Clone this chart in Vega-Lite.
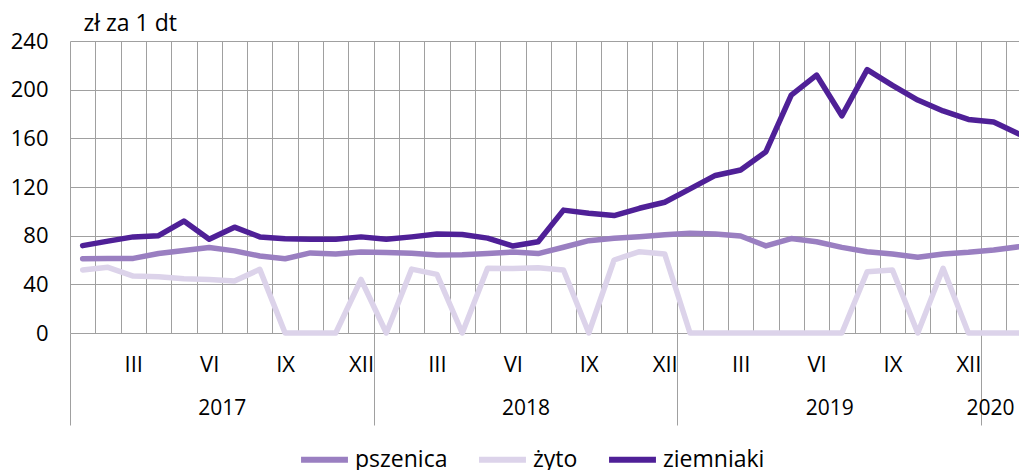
{
  "$schema": "https://vega.github.io/schema/vega-lite/v6.json",
  "width": 949,
  "height": 292,
  "autosize": "none",
  "padding": {"left": 70, "top": 41, "right": 0, "bottom": 137},
  "background": "white",
  "config": {
    "font": "Open Sans",
    "view": {"stroke": null},
    "axis": {"gridColor": "#a0a0a0", "gridOpacity": 1, "gridWidth": 1, "labelColor": "#000000", "labelFont": "Open Sans"}
  },
  "data": {"values": [
    {"m":1,"s":"pszenica","v":61},{"m":2,"s":"pszenica","v":61.3},{"m":3,"s":"pszenica","v":61.3},{"m":4,"s":"pszenica","v":65.3},{"m":5,"s":"pszenica","v":67.8},{"m":6,"s":"pszenica","v":70.2},{"m":7,"s":"pszenica","v":67.5},{"m":8,"s":"pszenica","v":63.3},{"m":9,"s":"pszenica","v":61},{"m":10,"s":"pszenica","v":65.8},{"m":11,"s":"pszenica","v":65},{"m":12,"s":"pszenica","v":66.5},{"m":13,"s":"pszenica","v":66.2},{"m":14,"s":"pszenica","v":65.5},{"m":15,"s":"pszenica","v":64.2},{"m":16,"s":"pszenica","v":64.4},{"m":17,"s":"pszenica","v":65.4},{"m":18,"s":"pszenica","v":66.5},{"m":19,"s":"pszenica","v":65.3},{"m":20,"s":"pszenica","v":70.5},{"m":21,"s":"pszenica","v":75.9},{"m":22,"s":"pszenica","v":77.8},{"m":23,"s":"pszenica","v":79.2},{"m":24,"s":"pszenica","v":80.8},{"m":25,"s":"pszenica","v":81.9},{"m":26,"s":"pszenica","v":81.3},{"m":27,"s":"pszenica","v":79.7},{"m":28,"s":"pszenica","v":71.6},{"m":29,"s":"pszenica","v":77.6},{"m":30,"s":"pszenica","v":75},{"m":31,"s":"pszenica","v":70.4},{"m":32,"s":"pszenica","v":66.8},{"m":33,"s":"pszenica","v":64.9},{"m":34,"s":"pszenica","v":62.3},{"m":35,"s":"pszenica","v":64.9},{"m":36,"s":"pszenica","v":66.3},{"m":37,"s":"pszenica","v":68.2},{"m":38,"s":"pszenica","v":70.9},
    {"m":1,"s":"żyto","v":51.8},{"m":2,"s":"żyto","v":54},{"m":3,"s":"żyto","v":46.8},{"m":4,"s":"żyto","v":46.3},{"m":5,"s":"żyto","v":44.5},{"m":6,"s":"żyto","v":44},{"m":7,"s":"żyto","v":42.7},{"m":8,"s":"żyto","v":52.3},{"m":9,"s":"żyto","v":0},{"m":10,"s":"żyto","v":0},{"m":11,"s":"żyto","v":0},{"m":12,"s":"żyto","v":44},{"m":13,"s":"żyto","v":0},{"m":14,"s":"żyto","v":52.5},{"m":15,"s":"żyto","v":48.2},{"m":16,"s":"żyto","v":0},{"m":17,"s":"żyto","v":53.2},{"m":18,"s":"żyto","v":53},{"m":19,"s":"żyto","v":53.7},{"m":20,"s":"żyto","v":51.8},{"m":21,"s":"żyto","v":0},{"m":22,"s":"żyto","v":60},{"m":23,"s":"żyto","v":66.8},{"m":24,"s":"żyto","v":65},{"m":25,"s":"żyto","v":0},{"m":26,"s":"żyto","v":0},{"m":27,"s":"żyto","v":0},{"m":28,"s":"żyto","v":0},{"m":29,"s":"żyto","v":0},{"m":30,"s":"żyto","v":0},{"m":31,"s":"żyto","v":0},{"m":32,"s":"żyto","v":50.4},{"m":33,"s":"żyto","v":51.8},{"m":34,"s":"żyto","v":0},{"m":35,"s":"żyto","v":53.2},{"m":36,"s":"żyto","v":0},{"m":37,"s":"żyto","v":0},{"m":38,"s":"żyto","v":0},
    {"m":1,"s":"ziemniaki","v":71.8},{"m":2,"s":"ziemniaki","v":75.5},{"m":3,"s":"ziemniaki","v":79},{"m":4,"s":"ziemniaki","v":80},{"m":5,"s":"ziemniaki","v":92},{"m":6,"s":"ziemniaki","v":77},{"m":7,"s":"ziemniaki","v":87},{"m":8,"s":"ziemniaki","v":79},{"m":9,"s":"ziemniaki","v":77.5},{"m":10,"s":"ziemniaki","v":77},{"m":11,"s":"ziemniaki","v":77},{"m":12,"s":"ziemniaki","v":79},{"m":13,"s":"ziemniaki","v":77},{"m":14,"s":"ziemniaki","v":79},{"m":15,"s":"ziemniaki","v":81.4},{"m":16,"s":"ziemniaki","v":81},{"m":17,"s":"ziemniaki","v":78},{"m":18,"s":"ziemniaki","v":71.5},{"m":19,"s":"ziemniaki","v":75},{"m":20,"s":"ziemniaki","v":101},{"m":21,"s":"ziemniaki","v":98.5},{"m":22,"s":"ziemniaki","v":96.5},{"m":23,"s":"ziemniaki","v":102.5},{"m":24,"s":"ziemniaki","v":107.5},{"m":25,"s":"ziemniaki","v":118.5},{"m":26,"s":"ziemniaki","v":129.5},{"m":27,"s":"ziemniaki","v":134},{"m":28,"s":"ziemniaki","v":149},{"m":29,"s":"ziemniaki","v":195.5},{"m":30,"s":"ziemniaki","v":212},{"m":31,"s":"ziemniaki","v":178.5},{"m":32,"s":"ziemniaki","v":216.5},{"m":33,"s":"ziemniaki","v":203.5},{"m":34,"s":"ziemniaki","v":191.5},{"m":35,"s":"ziemniaki","v":182.5},{"m":36,"s":"ziemniaki","v":175.5},{"m":37,"s":"ziemniaki","v":173.5},{"m":38,"s":"ziemniaki","v":163.5}
  ]},
  "layer": [
    {
      "mark": {"type": "line", "strokeWidth": 5.5, "strokeCap": "round", "strokeJoin": "round"},
      "encoding": {
        "x": {"field": "m", "type": "quantitative",
          "scale": {"domain": [0.5, 38], "nice": false, "zero": false},
          "axis": {"orient": "bottom", "title": null, "grid": true, "labels": false, "ticks": false, "domain": false,
            "values": [0.5,1.5,2.5,3.5,4.5,5.5,6.5,7.5,8.5,9.5,10.5,11.5,12.5,13.5,14.5,15.5,16.5,17.5,18.5,19.5,20.5,21.5,22.5,23.5,24.5,25.5,26.5,27.5,28.5,29.5,30.5,31.5,32.5,33.5,34.5,35.5,36.5,37.5]}},
        "y": {"field": "v", "type": "quantitative",
          "scale": {"domain": [0, 240], "nice": false},
          "axis": {"values": [0,40,80,120,160,200,240], "grid": true, "ticks": false, "domain": false,
            "labelFontSize": 22, "labelPadding": 22,
            "title": "zł za 1 dt", "titleAngle": 0, "titleAlign": "left", "titleBaseline": "alphabetic",
            "titleX": 13, "titleY": -11, "titleFontSize": 23, "titleFontWeight": "normal", "titleColor": "#000000", "titleFont": "Open Sans"}},
        "color": {"field": "s", "type": "nominal",
          "scale": {"domain": ["pszenica", "żyto", "ziemniaki"], "range": ["#9a7fc1", "#dcd3ea", "#4f2097"]},
          "legend": {"title": null, "orient": "none", "legendX": 228, "legendY": 392, "direction": "horizontal",
            "symbolType": "stroke", "symbolSize": 2200, "symbolStrokeWidth": 6, "labelFontSize": 23,
            "labelOffset": 4, "columnPadding": 19, "padding": 0, "labelColor": "#000000", "labelFont": "Open Sans"}}
      }
    },
    {
      "mark": {"type": "point", "opacity": 0},
      "encoding": {
        "x": {"field": "m", "type": "quantitative",
          "scale": {"domain": [0.5, 38], "nice": false, "zero": false},
          "axis": {"orient": "bottom", "title": null, "grid": false, "ticks": false, "domain": false,
            "values": [3,6,9,12,15,18,21,24,27,30,33,36],
            "labelExpr": "datum.value % 12 == 3 ? 'III' : datum.value % 12 == 6 ? 'VI' : datum.value % 12 == 9 ? 'IX' : 'XII'",
            "labelFontSize": 22, "labelPadding": 21, "labelBaseline": "top"}}
      }
    },
    {
      "mark": {"type": "point", "opacity": 0},
      "encoding": {
        "x": {"field": "m", "type": "quantitative",
          "scale": {"domain": [0.5, 38], "nice": false, "zero": false},
          "axis": {"orient": "bottom", "title": null, "grid": false, "labels": false, "domain": false,
            "ticks": true, "tickSize": 92, "tickColor": "#a0a0a0", "tickWidth": 1,
            "values": [0.5, 12.5, 24.5, 36.5, 38]}}
      }
    },
    {
      "mark": {"type": "point", "opacity": 0},
      "encoding": {
        "x": {"field": "m", "type": "quantitative",
          "scale": {"domain": [0.5, 38], "nice": false, "zero": false},
          "axis": {"orient": "bottom", "title": null, "grid": false, "ticks": false, "domain": false,
            "values": [6.5, 18.5, 30.5, 36.85],
            "labelExpr": "datum.value < 12.5 ? '2017' : datum.value < 24.5 ? '2018' : datum.value < 36.5 ? '2019' : '2020'",
            "labelFontSize": 21, "labelPadding": 64, "labelBaseline": "top", "labelBound": false, "labelOverlap": false}}
      }
    }
  ],
  "resolve": {"axis": {"x": "independent"}}
}
